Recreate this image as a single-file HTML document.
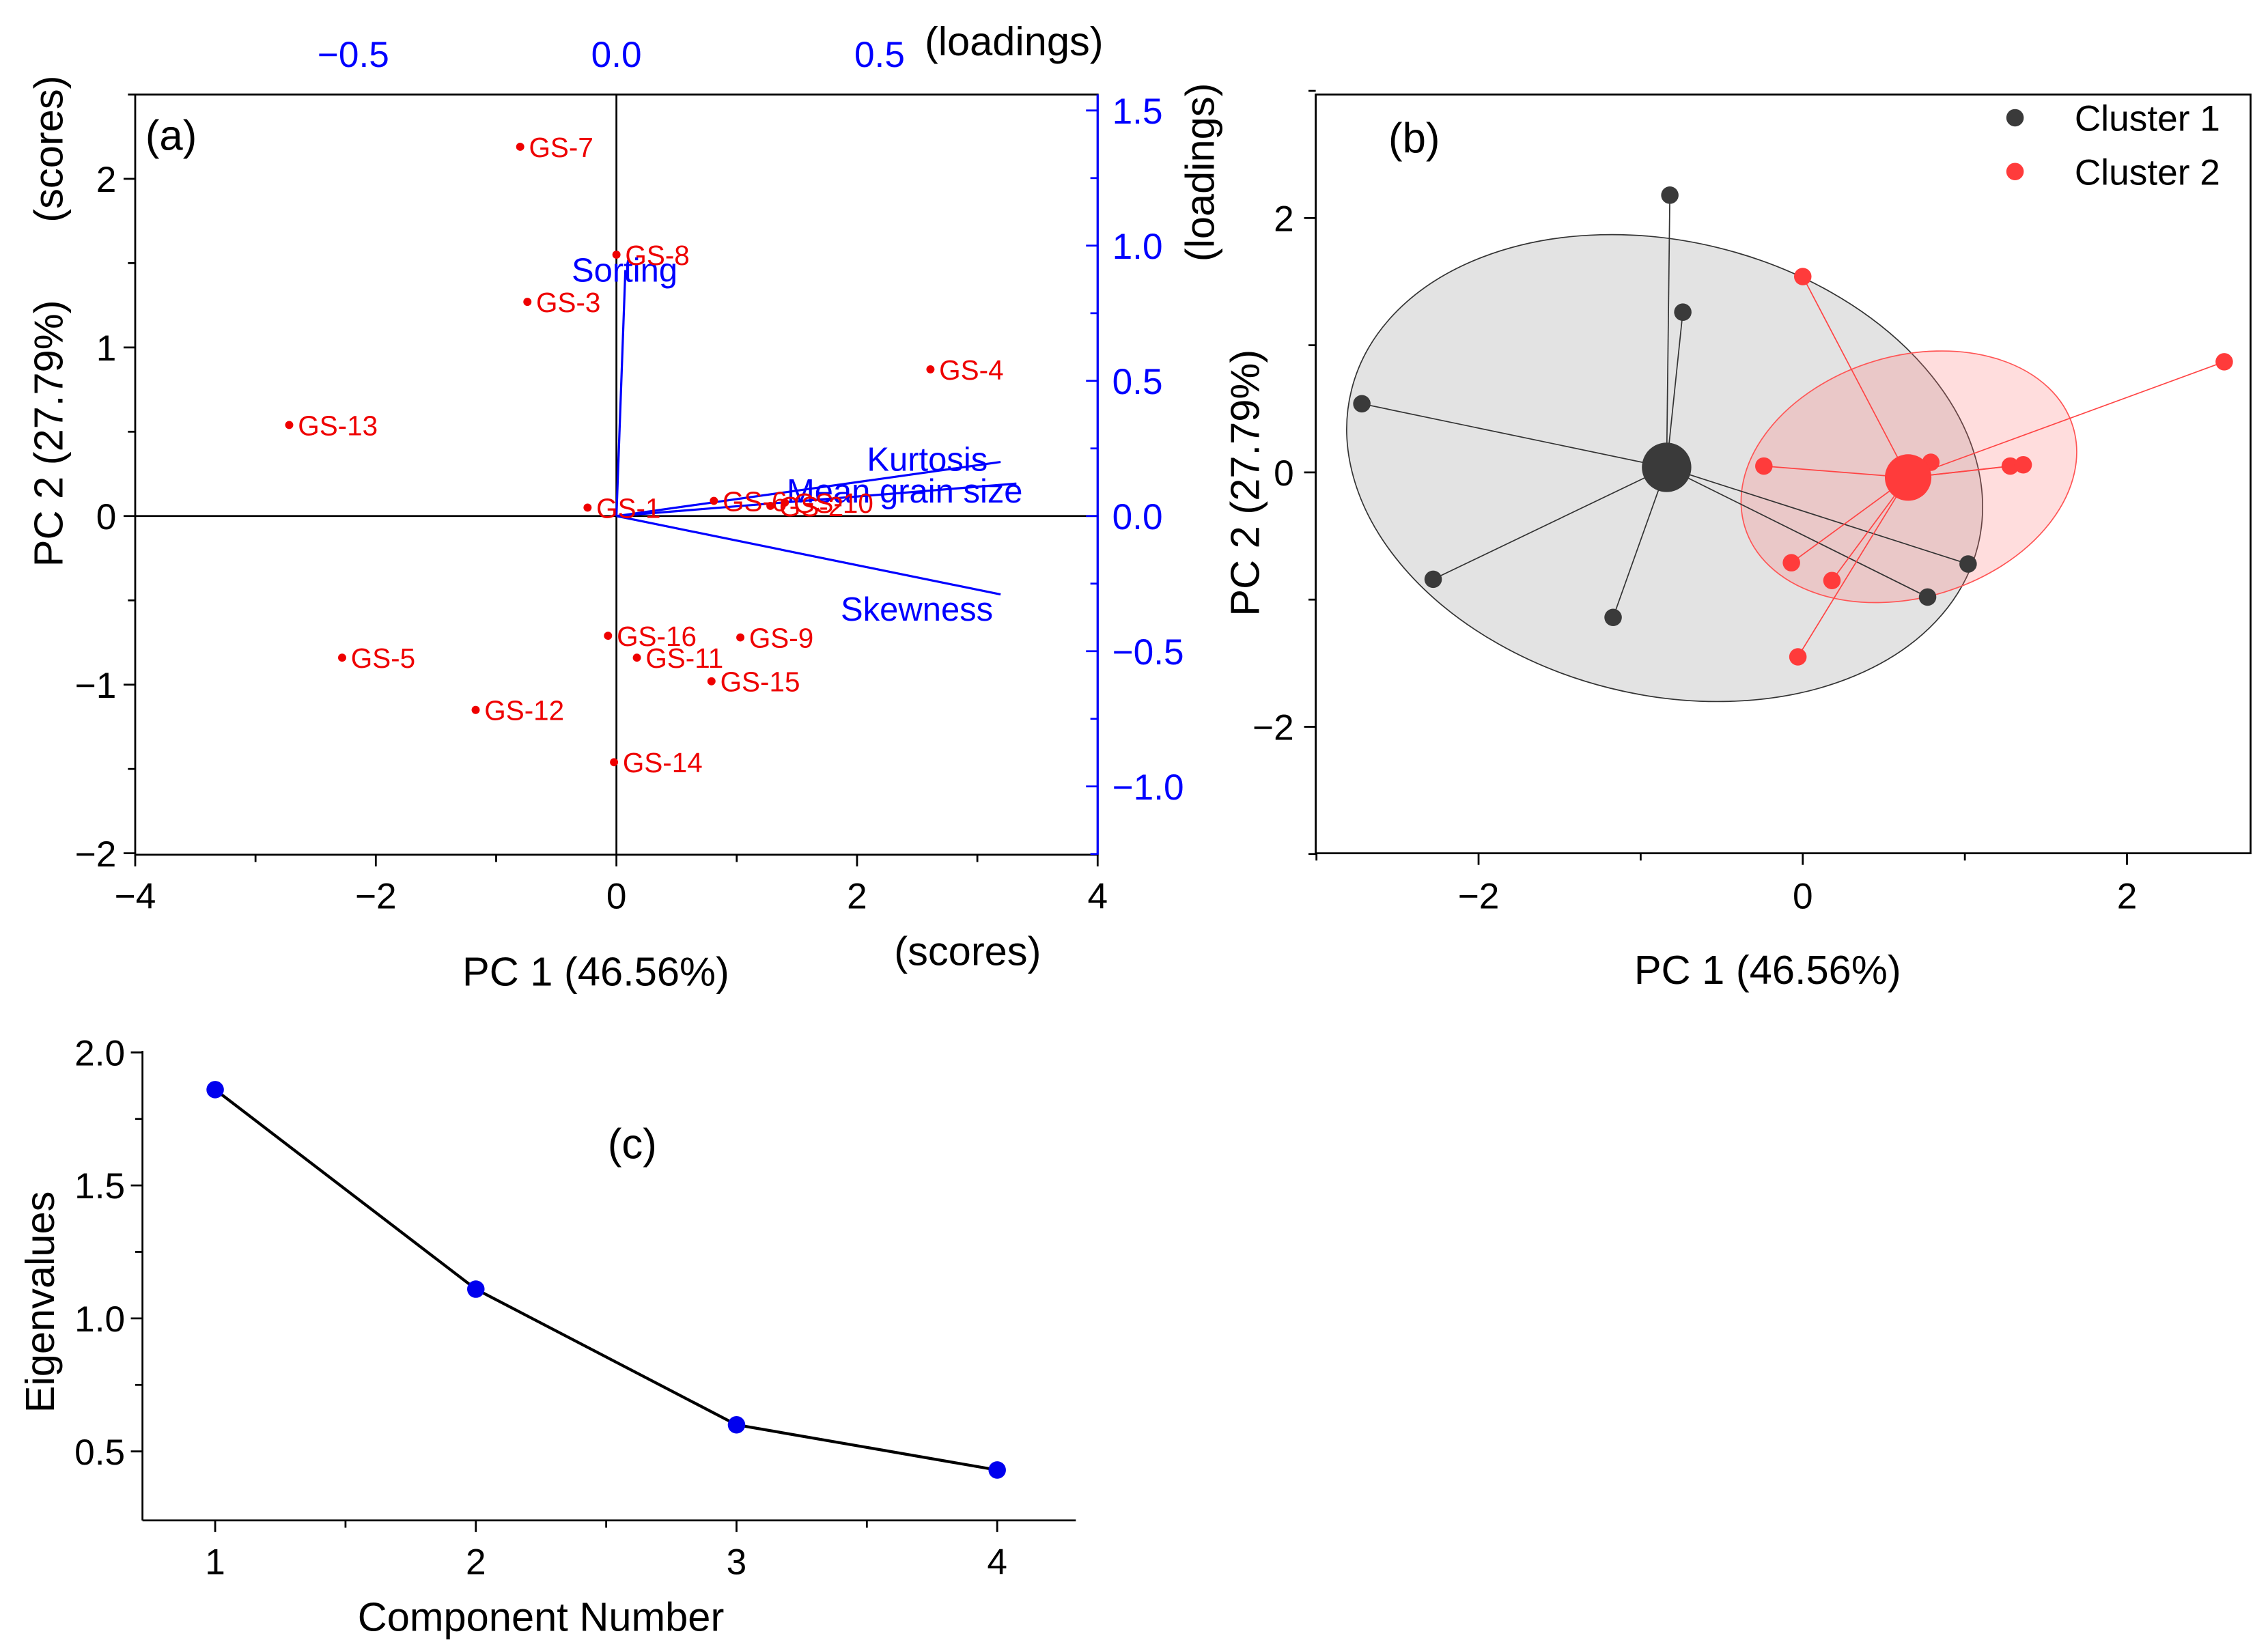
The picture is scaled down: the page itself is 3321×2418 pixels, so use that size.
<!DOCTYPE html>
<html><head><meta charset="utf-8"><style>
html,body{margin:0;padding:0;background:#fff}
svg{display:block}
text{font-family:"Liberation Sans",Arial,sans-serif}
</style></head><body>
<svg id="chart" width="3321" height="2418" viewBox="0 0 1560 1135.8" xmlns="http://www.w3.org/2000/svg">
<g id="pa"></g>
<g id="pb"></g>
<g id="pc"></g>
</svg>
<script>
// Panel (a) data
const scoreLabels = ["GS-7","GS-8","GS-3","GS-4","GS-13","GS-1","GS-6","GS-2","GS-10","GS-16","GS-9","GS-11","GS-15","GS-5","GS-12","GS-14"];
const scoreX = [-0.80,0,-0.74,2.61,-2.72,-0.24,0.81,1.28,1.40,-0.07,1.03,0.17,0.79,-2.28,-1.17,-0.02];
const scoreY = [2.19,1.55,1.27,0.87,0.54,0.05,0.09,0.06,0.08,-0.71,-0.72,-0.84,-0.98,-0.84,-1.15,-1.46];
const loadLabels = ["Sorting","Kurtosis","Mean grain size","Skewness"];
const loadX = [0.017,0.73,0.76,0.73];
const loadY = [0.91,0.20,0.12,-0.29];
const aXTicks = [-4,-2,0,2,4];
const aYTicks = [-2,-1,0,1,2];
const aTopTicks = [-0.5,0.0,0.5];
const aRightTicks = [-1.0,-0.5,0.0,0.5,1.0,1.5];
// Panel (b) data
const c1X = [-0.82,-0.74,-2.72,-2.28,-1.17,0.77,1.02];
const c1Y = [2.18,1.26,0.54,-0.84,-1.14,-0.98,-0.72];
const c2X = [0,2.6,-0.24,0.79,1.28,1.36,-0.07,0.18,-0.03];
const c2Y = [1.54,0.87,0.05,0.08,0.05,0.06,-0.71,-0.85,-1.45];
const centroidX = [-0.84,0.65];
const centroidY = [0.04,-0.04];
const bXTicks = [-2,0,2];
const bYTicks = [-2,0,2];
// Panel (c) data
const compNums = [1,2,3,4];
const eigenVals = [1.86,1.11,0.60,0.43];
const cYTicks = [0.5,1.0,1.5,2.0];

const NS="http://www.w3.org/2000/svg";
function mk(parent,tag,attrs,txt){const e=document.createElementNS(NS,tag);for(const k in attrs)e.setAttribute(k,attrs[k]);if(txt!==undefined)e.textContent=txt;parent.appendChild(e);return e;}
function fmt(v,d){return v<0?"-"+Math.abs(v).toFixed(d):v.toFixed(d);}

// ---------- Panel A ----------
const pa=document.getElementById('pa');
const ax=v=>424+v*82.75, ay=v=>355-v*116;
const lx=v=>424+v*362, ly=v=>355-v*186;
let e;
e=mk(pa,'rect',{x:93,y:65,width:662,height:523,fill:'none',stroke:'#000','stroke-width':1.3});


e=mk(pa,'line',{x1:755,y1:65,x2:755,y2:588,stroke:'#0000ff','stroke-width':1.5});


mk(pa,'line',{x1:93,y1:355,x2:755,y2:355,stroke:'#000','stroke-width':1.3});
mk(pa,'line',{x1:424,y1:65,x2:424,y2:588,stroke:'#000','stroke-width':1.3});
aXTicks.forEach(t=>{mk(pa,'line',{x1:ax(t),y1:588,x2:ax(t),y2:596,stroke:'#000','stroke-width':1.3});
 e=mk(pa,'text',{x:ax(t),y:625,'font-size':25,'text-anchor':'middle'},String(t).replace('-','−'));
 });
for(let t=-3;t<=3;t+=2)mk(pa,'line',{x1:ax(t),y1:588,x2:ax(t),y2:593,stroke:'#000','stroke-width':1.3});
aYTicks.forEach(t=>{mk(pa,'line',{x1:93,y1:ay(t),x2:85,y2:ay(t),stroke:'#000','stroke-width':1.3});
 e=mk(pa,'text',{x:80,y:ay(t)+9,'font-size':25,'text-anchor':'end'},String(t).replace('-','−'));
 });
for(let t=-1.5;t<=2.5;t+=1)mk(pa,'line',{x1:93,y1:ay(t),x2:88,y2:ay(t),stroke:'#000','stroke-width':1.3});
aTopTicks.forEach(t=>{e=mk(pa,'text',{x:lx(t),y:46,'font-size':25,'text-anchor':'middle',fill:'#0000ff'},fmt(t,1).replace('-','−'));
 });
aRightTicks.forEach(t=>{mk(pa,'line',{x1:755,y1:ly(t),x2:747,y2:ly(t),stroke:'#0000ff','stroke-width':1.3});
 e=mk(pa,'text',{x:765,y:ly(t)+9,'font-size':25,fill:'#0000ff'},fmt(t,1).replace('-','−'));
 });
for(let t=-1.25;t<=1.5;t+=0.5)mk(pa,'line',{x1:755,y1:ly(t),x2:750,y2:ly(t),stroke:'#0000ff','stroke-width':1.3});
e=mk(pa,'text',{x:318,y:678,'font-size':28},'PC 1 (46.56%)');
e=mk(pa,'text',{x:615,y:664,'font-size':28},'(scores)');
e=mk(pa,'text',{x:0,y:0,'font-size':28,transform:'translate(43,390) rotate(-90)'},'PC 2 (27.79%)');
e=mk(pa,'text',{x:0,y:0,'font-size':28,transform:'translate(43,153) rotate(-90)'},'(scores)');
e=mk(pa,'text',{x:636,y:38,'font-size':28},'(loadings)');
e=mk(pa,'text',{x:0,y:0,'font-size':28,transform:'translate(835,180) rotate(-90)'},'(loadings)');
e=mk(pa,'text',{x:100,y:103,'font-size':29},'(a)');
loadLabels.forEach((n,i)=>{
 e=mk(pa,'line',{x1:lx(0),y1:ly(0),x2:lx(loadX[i]),y2:ly(loadY[i]),stroke:'#0000ff','stroke-width':1.5});
 
});
const loadOff=[[-37,8],[-92,6],[-158,13],[-110,18]];
loadLabels.forEach((n,i)=>{
 e=mk(pa,'text',{x:lx(loadX[i])+loadOff[i][0],y:ly(loadY[i])+loadOff[i][1],'font-size':23,fill:'#0000ff'},n);
 
});
scoreLabels.forEach((n,i)=>{
 e=mk(pa,'circle',{cx:ax(scoreX[i]),cy:ay(scoreY[i]),r:2.8,fill:'#ee0000'});
 
 e=mk(pa,'text',{x:ax(scoreX[i])+6,y:ay(scoreY[i])+7,'font-size':19,fill:'#ee0000'},n);
 
});

// ---------- Panel B ----------
const pb=document.getElementById('pb');
const bx=v=>1240+v*111.5, by=v=>325-v*87.5;
e=mk(pb,'rect',{x:905,y:65,width:643,height:522,fill:'none',stroke:'#000','stroke-width':1.3});

e=mk(pb,'ellipse',{cx:1145,cy:322,rx:222,ry:156,transform:'rotate(14 1145 322)',fill:'#e3e3e3',stroke:'#333','stroke-width':0.8});

e=mk(pb,'ellipse',{cx:1313,cy:328,rx:118,ry:83,transform:'rotate(-17 1313 328)',fill:'rgba(255,120,120,0.25)',stroke:'#ff5555','stroke-width':0.8});

c1X.forEach((v,i)=>mk(pb,'line',{x1:bx(centroidX[0]),y1:by(centroidY[0]),x2:bx(v),y2:by(c1Y[i]),stroke:'#333','stroke-width':0.8}));
c2X.forEach((v,i)=>mk(pb,'line',{x1:bx(centroidX[1]),y1:by(centroidY[1]),x2:bx(v),y2:by(c2Y[i]),stroke:'#ff4444','stroke-width':0.8}));
c1X.forEach((v,i)=>{e=mk(pb,'circle',{cx:bx(v),cy:by(c1Y[i]),r:6,fill:'#3a3a3a'});
 });
c2X.forEach((v,i)=>{e=mk(pb,'circle',{cx:bx(v),cy:by(c2Y[i]),r:6,fill:'#ff3b3b'});
 });
e=mk(pb,'circle',{cx:bx(centroidX[0]),cy:by(centroidY[0]),r:17,fill:'#3a3a3a'});

e=mk(pb,'circle',{cx:bx(centroidX[1]),cy:by(centroidY[1]),r:16,fill:'#ff3b3b'});

bXTicks.forEach(t=>{mk(pb,'line',{x1:bx(t),y1:587,x2:bx(t),y2:595,stroke:'#000','stroke-width':1.3});
 e=mk(pb,'text',{x:bx(t),y:625,'font-size':25,'text-anchor':'middle'},String(t).replace('-','−'));
 });
for(let t=-3;t<=3;t+=2)mk(pb,'line',{x1:bx(t),y1:587,x2:bx(t),y2:592,stroke:'#000','stroke-width':1.3});
bYTicks.forEach(t=>{mk(pb,'line',{x1:905,y1:by(t),x2:897,y2:by(t),stroke:'#000','stroke-width':1.3});
 e=mk(pb,'text',{x:890,y:by(t)+9,'font-size':25,'text-anchor':'end'},String(t).replace('-','−'));
 });
for(let t=-3;t<=3;t+=2)mk(pb,'line',{x1:905,y1:by(t),x2:900,y2:by(t),stroke:'#000','stroke-width':1.3});
e=mk(pb,'text',{x:1124,y:677,'font-size':28},'PC 1 (46.56%)');
e=mk(pb,'text',{x:0,y:0,'font-size':28,transform:'translate(866,424) rotate(-90)'},'PC 2 (27.79%)');
e=mk(pb,'text',{x:955,y:105,'font-size':29},'(b)');
e=mk(pb,'circle',{cx:1386,cy:81,r:6,fill:'#3a3a3a'});
e=mk(pb,'text',{x:1427,y:90,'font-size':25},'Cluster 1');
e=mk(pb,'circle',{cx:1386,cy:118,r:6,fill:'#ff3b3b'});
e=mk(pb,'text',{x:1427,y:127,'font-size':25},'Cluster 2');

// ---------- Panel C ----------
const pc=document.getElementById('pc');
const cx=v=>148+(v-1)*179.3, cy=v=>1090-v*183;
e=mk(pc,'line',{x1:98,y1:723,x2:98,y2:1046,stroke:'#000','stroke-width':1.3});
e=mk(pc,'line',{x1:98,y1:1046,x2:740,y2:1046,stroke:'#000','stroke-width':1.3});
compNums.forEach(t=>{mk(pc,'line',{x1:cx(t),y1:1046,x2:cx(t),y2:1054,stroke:'#000','stroke-width':1.3});
 e=mk(pc,'text',{x:cx(t),y:1083,'font-size':25,'text-anchor':'middle'},String(t));
 });
for(let t=1.5;t<=3.5;t+=1)mk(pc,'line',{x1:cx(t),y1:1046,x2:cx(t),y2:1051,stroke:'#000','stroke-width':1.3});
cYTicks.forEach(t=>{mk(pc,'line',{x1:98,y1:cy(t),x2:90,y2:cy(t),stroke:'#000','stroke-width':1.3});
 e=mk(pc,'text',{x:86,y:cy(t)+9,'font-size':25,'text-anchor':'end'},t.toFixed(1));
 });
for(let t=0.75;t<=2;t+=0.5)mk(pc,'line',{x1:98,y1:cy(t),x2:93,y2:cy(t),stroke:'#000','stroke-width':1.3});
e=mk(pc,'polyline',{points:compNums.map((c,i)=>cx(c)+','+cy(eigenVals[i])).join(' '),fill:'none',stroke:'#000','stroke-width':2});

compNums.forEach((c,i)=>{e=mk(pc,'circle',{cx:cx(c),cy:cy(eigenVals[i]),r:6,fill:'#0000ee'});
 });
e=mk(pc,'text',{x:246,y:1122,'font-size':28},'Component Number');
e=mk(pc,'text',{x:0,y:0,'font-size':28,transform:'translate(37,972) rotate(-90)'},'Eigenvalues');
e=mk(pc,'text',{x:418,y:797,'font-size':29},'(c)');
</script>
</body></html>
